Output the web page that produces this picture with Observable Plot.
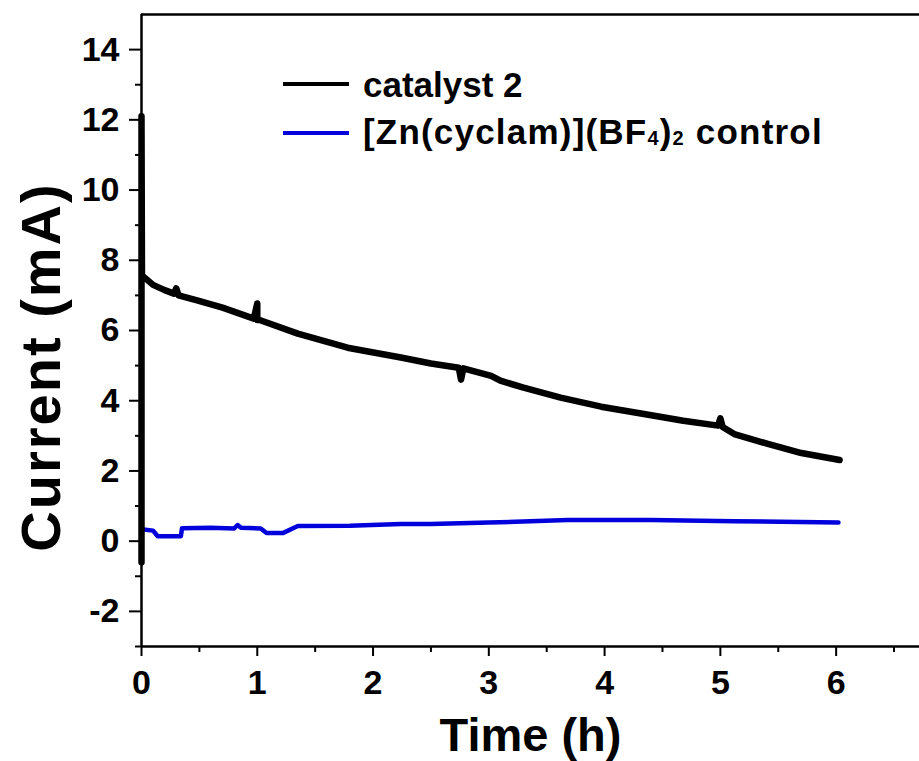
<!DOCTYPE html>
<html><head><meta charset="utf-8">
<script src="https://cdn.jsdelivr.net/npm/d3@7"></script>
<script src="https://cdn.jsdelivr.net/npm/@observablehq/plot@0.6"></script>
<style>body{margin:0;background:#fff} #chart{width:919px;height:761px;position:relative}</style>
</head><body><div id="chart"></div>
<script>
// catalyst 2 (black)
const catalystTime    = [0, 0, 0.004, 0.1, 0.2, 0.28, 0.3, 0.32, 0.48, 0.7, 0.97, 1.0, 1.0, 1.02, 1.35, 1.78, 2.24, 2.5, 2.74, 2.76, 2.78, 3.02, 3.1, 3.3, 3.62, 3.97, 4.34, 4.68, 4.98, 5.0, 5.02, 5.12, 5.41, 5.7, 6.03];
const catalystCurrent = [-0.6, 12.1, 7.57, 7.3, 7.15, 7.05, 7.2, 7.0, 6.86, 6.65, 6.34, 6.77, 6.3, 6.3, 5.91, 5.51, 5.23, 5.06, 4.94, 4.6, 4.92, 4.71, 4.57, 4.37, 4.09, 3.83, 3.62, 3.43, 3.29, 3.5, 3.25, 3.05, 2.77, 2.51, 2.31];
// [Zn(cyclam)](BF4)2 control (blue)
const controlTime    = [0, 0.1, 0.14, 0.34, 0.35, 0.6, 0.8, 0.83, 0.86, 1.03, 1.08, 1.22, 1.35, 1.8, 2.24, 2.5, 3.0, 3.68, 4.4, 5.12, 6.02];
const controlCurrent = [0.34, 0.3, 0.14, 0.14, 0.37, 0.38, 0.36, 0.46, 0.38, 0.36, 0.23, 0.23, 0.43, 0.44, 0.49, 0.49, 0.53, 0.6, 0.6, 0.57, 0.53];

const xTicks = [0, 1, 2, 3, 4, 5, 6];
const xMinorTicks = [0.5, 1.5, 2.5, 3.5, 4.5, 5.5, 6.5];
const yTicks = [-2, 0, 2, 4, 6, 8, 10, 12, 14];
const yMinorTicks = [-3, -1, 1, 3, 5, 7, 9, 11, 13];
const seriesNames = ["catalyst 2", "[Zn(cyclam)](BF4)2 control"];
const seriesColors = ["#000000", "#0000dd"];
const xLabel = "Time (h)";
const yLabel = "Current (mA)";

const catalyst = catalystTime.map((t, i) => ({t, v: catalystCurrent[i]}));
const control = controlTime.map((t, i) => ({t, v: controlCurrent[i]}));

const font = "'Liberation Sans', Arial, Helvetica, sans-serif";
const plot = Plot.plot({
  width: 919, height: 761,
  marginLeft: 141, marginRight: 0, marginTop: 14, marginBottom: 115,
  style: {fontFamily: font, fontWeight: "bold", background: "#fff", color: "#000"},
  x: {domain: [0, 6.72]},
  y: {domain: [-3, 15]},
  marks: [
    Plot.axisX({ticks: xMinorTicks, tickSize: 6, text: null, strokeWidth: 2, label: null}),
    Plot.axisX({ticks: xTicks, tickSize: 10, tickPadding: 13, fontSize: 34, fontWeight: "bold", strokeWidth: 2, label: null, tickFormat: d => String(d)}),
    Plot.axisY({ticks: yMinorTicks, tickSize: 6, text: null, strokeWidth: 2, label: null}),
    Plot.axisY({ticks: yTicks, tickSize: 12, tickPadding: 10, fontSize: 34, fontWeight: "bold", strokeWidth: 2, label: null, tickFormat: d => String(d)}),
    Plot.ruleX([0], {strokeWidth: 2.5}),
    Plot.ruleY([-3], {strokeWidth: 2.5}),
    Plot.ruleY([15], {strokeWidth: 2.5}),
    Plot.line(control, {x: "t", y: "v", stroke: seriesColors[1], strokeWidth: 4.5}),
    Plot.line(catalyst, {x: "t", y: "v", stroke: seriesColors[0], strokeWidth: 6.5}),
    Plot.text([xLabel], {frameAnchor: "bottom", dy: 89, fontSize: 47, fontWeight: "bold", lineAnchor: "middle"})
  ]
});
document.getElementById("chart").appendChild(plot);

const svg = d3.select(plot);
// y-axis title
svg.append("text")
  .attr("transform", "translate(40,367) rotate(-90)")
  .attr("text-anchor", "middle").attr("dominant-baseline", "central")
  .attr("font-family", font).attr("font-weight", "bold").attr("font-size", 56)
  .attr("letter-spacing", 2).attr("fill", "#000")
  .text(yLabel);

// legend inside the frame
const lg = svg.append("g").attr("font-family", font).attr("font-weight", "bold")
  .attr("font-size", 35).attr("text-anchor", "start").attr("fill", "#000");
const rows = [{y: 84, base: 97}, {y: 133, base: 144}];
rows.forEach((r, i) => {
  lg.append("line").attr("x1", 283).attr("x2", 349).attr("y1", r.y).attr("y2", r.y)
    .attr("stroke", seriesColors[i]).attr("stroke-width", 4);
});
lg.append("text").attr("x", 363).attr("y", rows[0].base).text(seriesNames[0]);
const t2 = lg.append("text").attr("x", 363).attr("y", rows[1].base).attr("letter-spacing", 1.2);
t2.append("tspan").text("[Zn(cyclam)](BF");
t2.append("tspan").attr("font-size", 20).attr("dy", 1).text("4");
t2.append("tspan").attr("dy", -1).text(")");
t2.append("tspan").attr("font-size", 20).attr("dy", 1).text("2");
t2.append("tspan").attr("dy", -1).text(" control");
</script>
</body></html>
